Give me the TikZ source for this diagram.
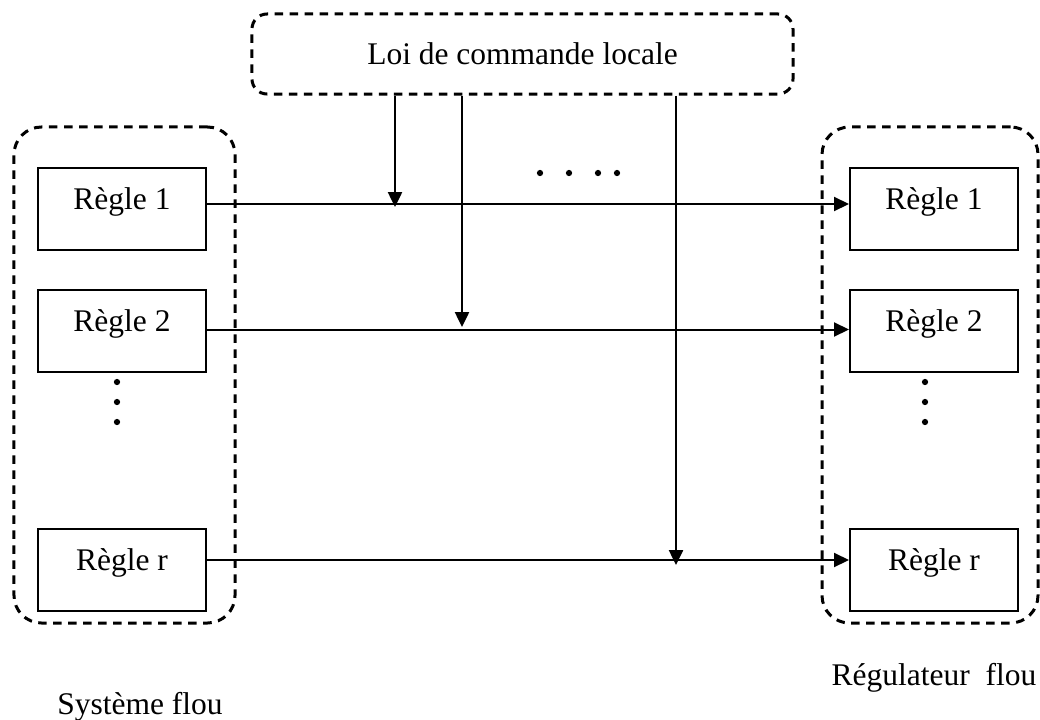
\documentclass[tikz,border=0pt]{standalone}
\usepackage{fontspec}
\setmainfont{Liberation Serif}
\usepackage{tikz}
\usetikzlibrary{arrows.meta,positioning}

\begin{document}
\begin{tikzpicture}[
  x=0.4pt, y=-0.4pt,
  font=\fontsize{12.6}{15}\selectfont,
  regle/.style={rectangle, draw, line width=0.8pt, minimum width=67.2pt, minimum height=32.8pt, text height=2ex, text depth=2ex, inner sep=0pt},
  groupe/.style={rectangle, draw, line width=1.2pt, dash pattern=on 3.4pt off 2.6pt, rounded corners=11pt, inner sep=0pt},
  fleche/.style={-{Triangle[length=6pt,width=5.6pt]}, line width=0.8pt},
  point/.style={circle, fill, inner sep=0pt, minimum size=2.5pt}
]
\useasboundingbox (0,0) rectangle (1040,720);

% Loi de commande
\node[groupe, rounded corners=6pt, minimum width=216.4pt, minimum height=32pt] (loi) at (522.5,54) {Loi de commande locale};

% Systeme flou
\node[groupe, minimum width=88.4pt, minimum height=198.4pt] (sys) at (124.5,375) {};
\node[regle] (l1) at (122,209) {Règle 1};
\node[regle, below=15.2pt of l1] (l2) {Règle 2};
\node[regle, below=62pt of l2] (lr) {Règle r};

% Regulateur flou
\node[groupe, minimum width=86.4pt, minimum height=198.4pt] (reg) at (930,375) {};
\node[regle, right=256.8pt of l1] (r1) {Règle 1};
\node[regle, right=256.8pt of l2] (r2) {Règle 2};
\node[regle, right=256.8pt of lr] (rr) {Règle r};

% Fleches
\draw[fleche] ([yshift=2pt]l1.east) -- ([yshift=2pt]r1.west);
\draw[fleche] ([yshift=0.6pt]l2.east) -- ([yshift=0.6pt]r2.west);
\draw[fleche] ([yshift=4pt]lr.east) -- ([yshift=4pt]rr.west);

\coordinate (c1) at (395,207);
\coordinate (c2) at (462,327);
\coordinate (cr) at (676,565);
\draw[fleche, line width=1pt] (loi.south -| c1) -- (c1);
\draw[fleche, line width=1pt] (loi.south -| c2) -- (c2);
\draw[fleche, line width=1pt] (loi.south -| cr) -- (cr);

% Points
\foreach \px in {540,569,598,617}
  \node[point] at (\px,173) {};
\foreach \py in {382,402,422} {
  \node[point] at (117,\py) {};
  \node[point] at (925,\py) {};
}

% Legendes
\node[anchor=base] (lsys) at (140,714) {Système flou};
\node[anchor=base] (lreg) at (934,685) {Régulateur\ \ flou};

\end{tikzpicture}
\end{document}
